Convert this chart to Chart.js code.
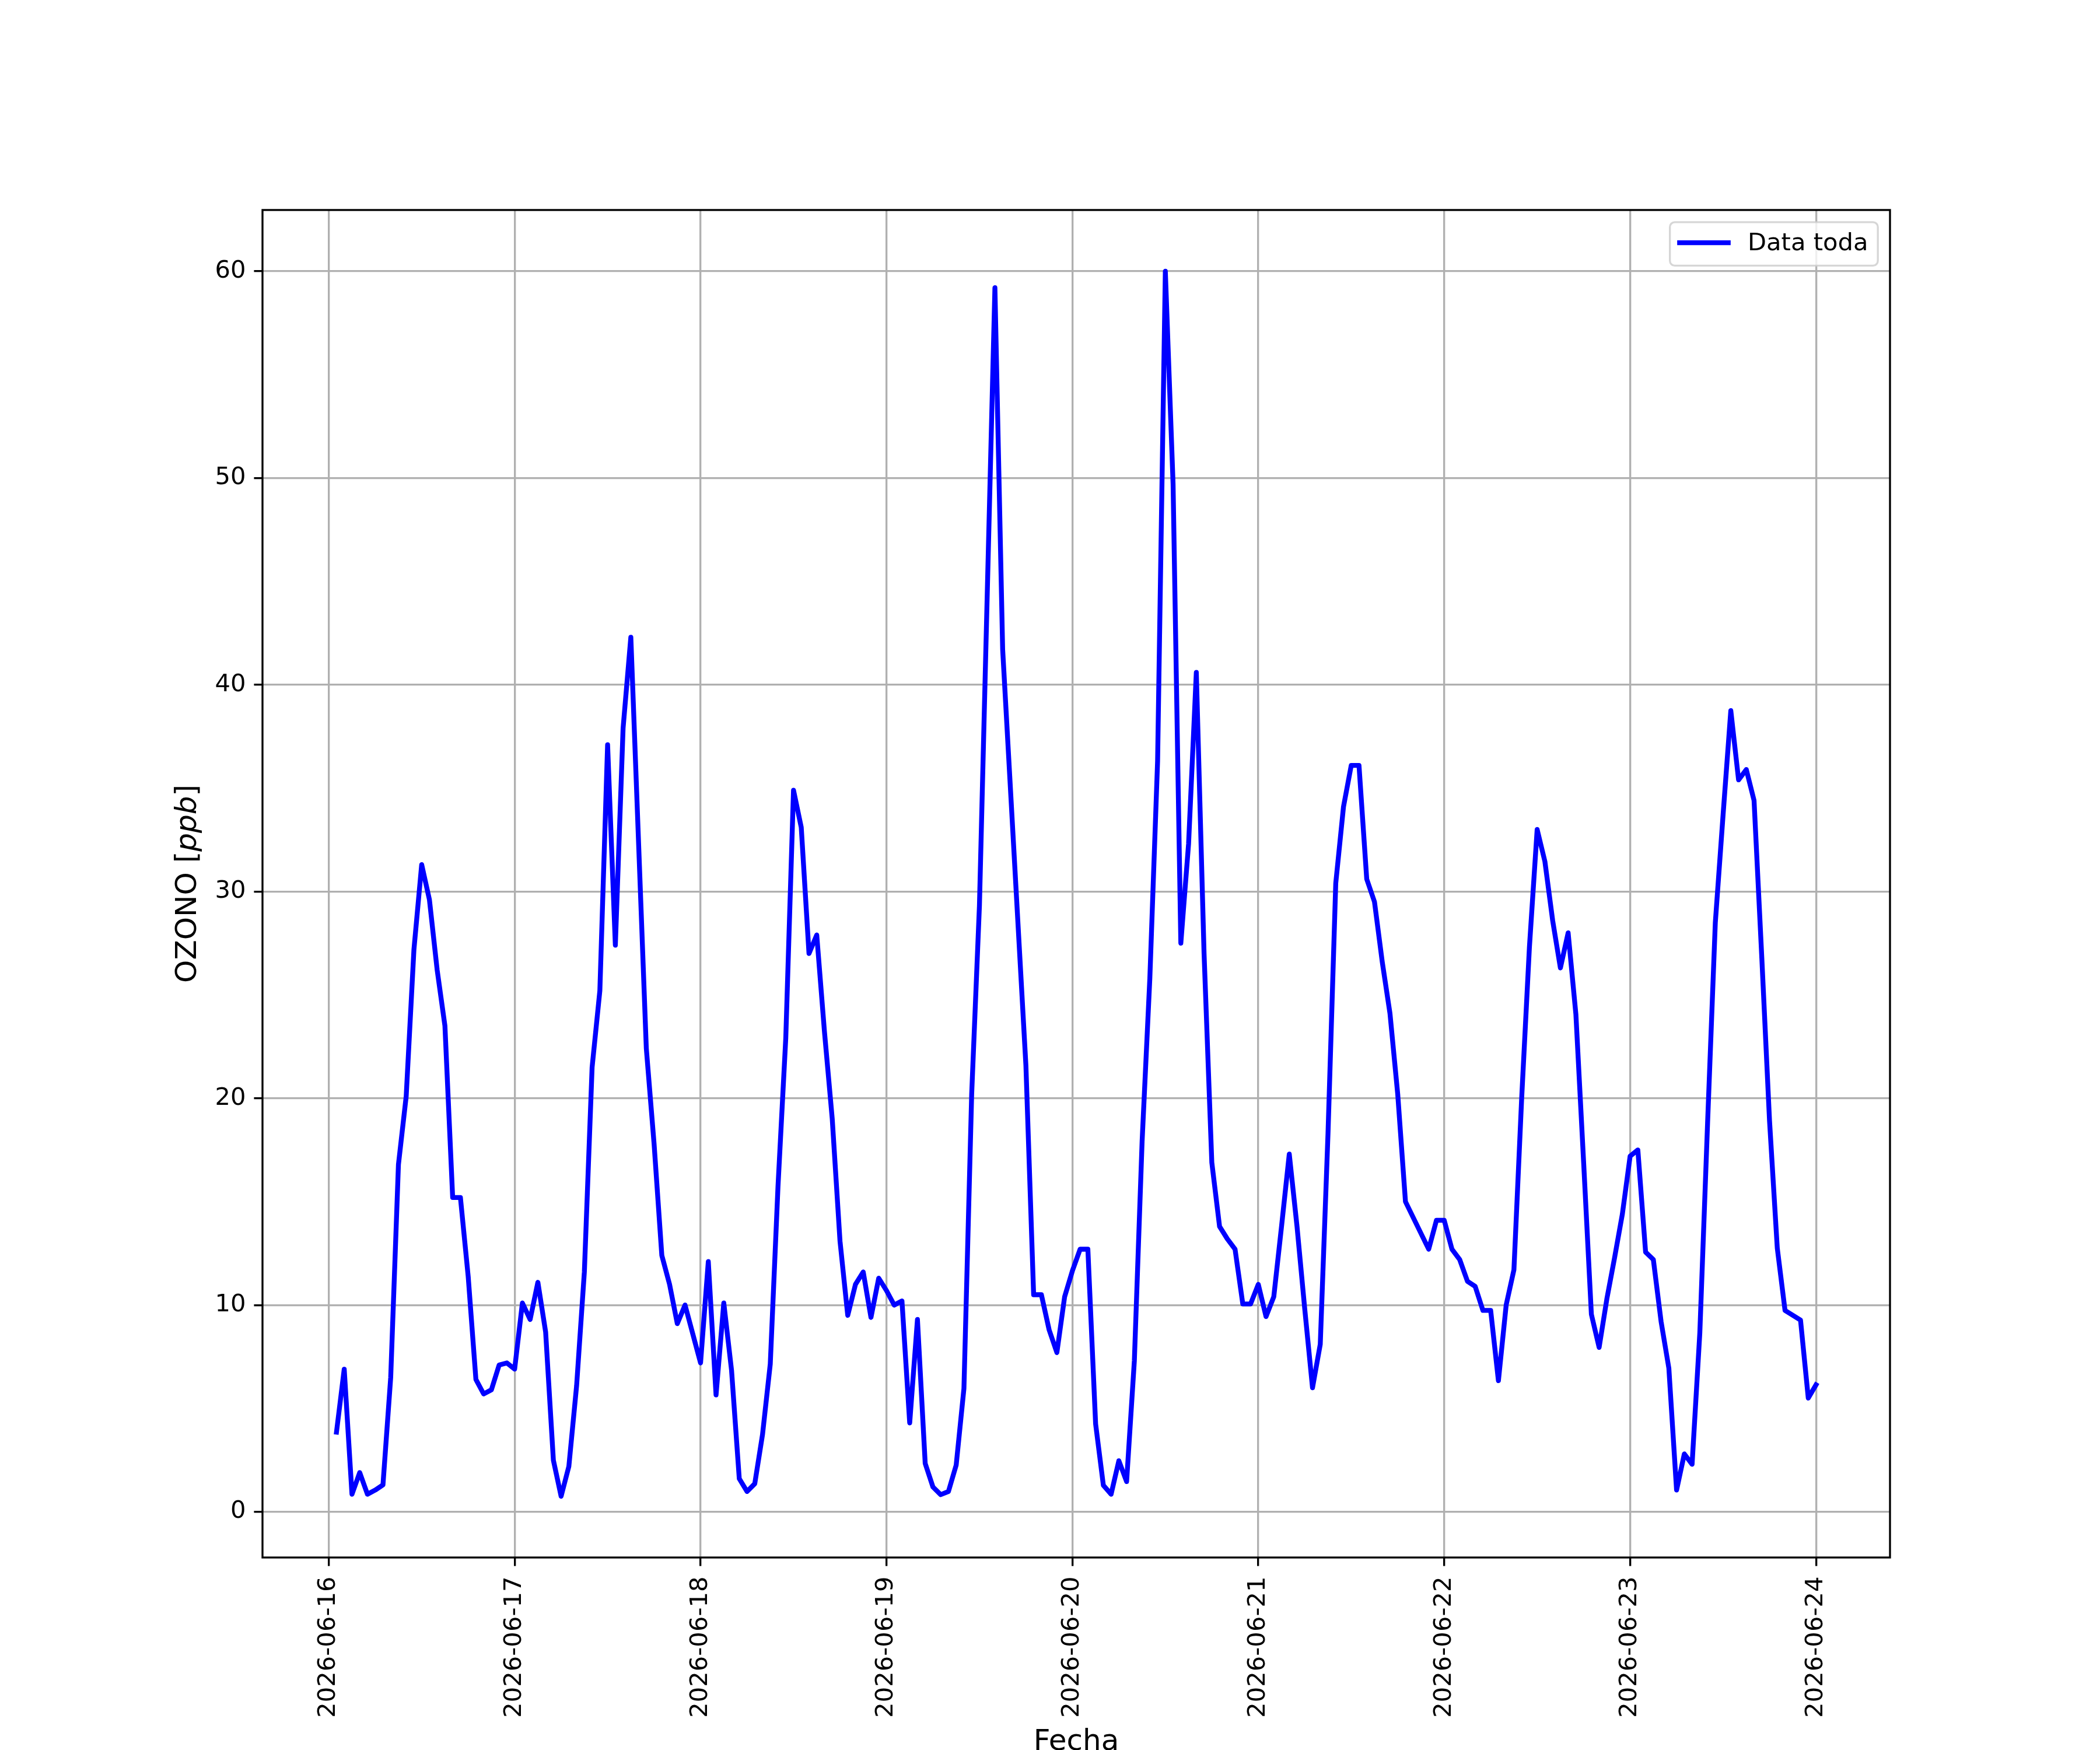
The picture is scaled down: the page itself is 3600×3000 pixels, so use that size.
<!DOCTYPE html>
<html>
<head>
<meta charset="utf-8">
<script src="https://cdn.jsdelivr.net/npm/chart.js@4.4.1/dist/chart.umd.min.js"></script>
<style>
  html, body { margin: 0; padding: 0; background: #ffffff; }
  #wrap { width: 3600px; height: 3000px; }
</style>
</head>
<body>
<div id="wrap"><canvas id="c" width="3600" height="3000"></canvas></div>
<script>
// ---- data (x = hours since 2026-06-16 00:00) ----
const hours = [
  1,2,3,4,5,6,7,8,9,10,11,12,13,14,15,16,17,18,19,20,21,22,23,
  24,25,26,27,28,29,30,31,32,33,34,35,36,37,38,39,41,42,43,44,45,46,47,
  48,49,50,51,52,53,54,55,56,57,58,59,60,61,62,63,64,65,66,67,68,69,70,71,
  72,73,74,75,76,77,78,79,80,81,82,83,84,86,87,90,91,92,93,94,95,
  96,97,98,99,100,101,102,103,104,105,106,107,108,109,110,111,112,113,114,115,116,117,118,119,
  120,121,122,123,124,125,126,127,128,129,130,131,132,133,134,135,136,137,138,139,142,143,
  144,145,146,147,148,149,150,151,152,153,154,155,156,157,158,159,160,161,162,163,164,165,166,167,
  168,169,170,171,172,173,174,175,176,177,178,179,180,181,182,183,184,185,186,187,188,190,191,
  192
];
const ozone = [
  3.85,6.9,0.85,1.9,0.85,1.05,1.3,6.5,16.8,20.1,27.2,31.3,29.6,26.2,23.5,15.2,15.2,11.4,6.4,5.7,5.9,7.1,7.2,
  6.9,10.1,9.3,11.1,8.7,2.5,0.75,2.2,6.1,11.6,21.5,25.2,37.1,27.4,37.9,42.3,22.4,17.8,12.4,11.0,9.1,10.0,8.6,
  7.2,12.1,5.65,10.1,6.85,1.6,0.98,1.36,3.74,7.15,15.76,22.9,34.9,33.1,27.0,27.9,23.2,19.0,13.1,9.5,11.0,11.6,9.4,11.3,
  10.7,10.0,10.2,4.3,9.3,2.34,1.2,0.83,0.98,2.26,5.96,20.2,29.3,59.2,41.7,21.6,10.5,10.5,8.8,7.7,10.4,
  11.65,12.7,12.7,4.25,1.28,0.85,2.47,1.46,7.3,17.9,25.8,36.3,60.0,49.7,27.5,32.3,40.6,27.0,16.9,13.8,13.2,12.7,10.05,10.05,
  11.0,9.44,10.4,13.8,17.3,13.8,9.8,6.0,8.1,18.3,30.4,34.1,36.1,36.1,30.6,29.5,26.6,24.1,20.2,15.0,12.7,14.1,
  14.1,12.7,12.2,11.15,10.9,9.74,9.74,6.34,10.0,11.7,20.0,27.3,33.0,31.45,28.6,26.3,28.0,24.06,16.9,9.55,7.95,10.3,12.3,14.4,
  17.2,17.5,12.56,12.2,9.2,6.95,1.05,2.8,2.3,8.66,18.8,28.5,33.7,38.75,35.4,35.9,34.4,26.8,18.9,12.75,9.74,9.27,5.5,
  6.14
];
const dayTickHours = [0,24,48,72,96,120,144,168,192];
const dayTickLabels = ['2026-06-16','2026-06-17','2026-06-18','2026-06-19','2026-06-20','2026-06-21','2026-06-22','2026-06-23','2026-06-24'];
const yTickValues = [0,10,20,30,40,50,60];
const seriesLabel = 'Data toda';
const xTitle = 'Fecha';
const yTitleParts = [['OZONO [', false], ['ppb', true], [']', false]];

// ---- style constants (matplotlib at 300 dpi) ----
const PT = 300 / 72;
const FS = 10 * PT;          // tick / legend text, 41.67 px
const FS_LABEL = 12 * PT;    // axis labels, 50 px
const FONT = 'DejaVu Sans';

Chart.defaults.font.family = FONT;
Chart.defaults.font.size = FS;
Chart.defaults.color = '#000000';

const points = hours.map((h, i) => ({ x: h, y: ozone[i] }));

const framePlugin = {
  id: 'frame',
  afterDatasetsDraw(chart) {
    const ctx = chart.ctx;
    const a = chart.chartArea;
    // legend (upper right, matplotlib style)
    ctx.save();
    ctx.font = FS + 'px "' + FONT + '"';
    const tw = ctx.measureText(seriesLabel).width;
    const pad = 0.4 * FS, handle = 2 * FS, htp = 0.8 * FS;
    const w = pad + handle + htp + tw + pad;
    const h = 2 * pad + FS * 0.99;
    const bx = a.right - 0.5 * FS - w;
    const by = a.top + 0.5 * FS;
    ctx.beginPath();
    ctx.roundRect(bx, by, w, h, 0.2 * FS);
    ctx.fillStyle = 'rgba(255,255,255,0.8)';
    ctx.fill();
    ctx.lineWidth = 0.8 * PT;
    ctx.strokeStyle = 'rgba(204,204,204,0.8)';
    ctx.stroke();
    const cy = by + h / 2 - 2;
    ctx.beginPath();
    ctx.moveTo(bx + pad, cy);
    ctx.lineTo(bx + pad + handle, cy);
    ctx.lineWidth = 2 * PT;
    ctx.strokeStyle = chart.data.datasets[0].borderColor;
    ctx.lineCap = 'square';
    ctx.stroke();
    ctx.fillStyle = '#000000';
    ctx.textBaseline = 'middle';
    ctx.textAlign = 'left';
    ctx.fillText(seriesLabel, bx + pad + handle + htp, by + h / 2);
    ctx.restore();
  },
  afterDraw(chart) {
    const ctx = chart.ctx;
    const a = chart.chartArea;
    ctx.save();
    // spines
    ctx.lineWidth = 0.8 * PT;
    ctx.strokeStyle = '#000000';
    ctx.strokeRect(a.left, a.top, a.right - a.left, a.bottom - a.top);
    // y-axis title with italic math part
    ctx.translate(323, (a.top + a.bottom) / 2);
    ctx.rotate(-Math.PI / 2);
    ctx.textBaseline = 'middle';
    ctx.textAlign = 'left';
    ctx.fillStyle = '#000000';
    const fonts = yTitleParts.map(p => (p[1] ? 'italic ' : '') + FS_LABEL + 'px "' + FONT + '"');
    let total = 0;
    const widths = yTitleParts.map((p, i) => { ctx.font = fonts[i]; const ww = ctx.measureText(p[0]).width; total += ww; return ww; });
    let x = -total / 2;
    yTitleParts.forEach((p, i) => { ctx.font = fonts[i]; ctx.fillText(p[0], x, 0); x += widths[i]; });
    ctx.restore();
  }
};

new Chart(document.getElementById('c'), {
  type: 'line',
  data: {
    datasets: [{
      label: seriesLabel,
      data: points,
      borderColor: '#0000ff',
      backgroundColor: '#0000ff',
      borderWidth: 2 * PT,
      borderJoinStyle: 'round',
      borderCapStyle: 'square',
      pointRadius: 0,
      tension: 0,
      fill: false
    }]
  },
  options: {
    responsive: false,
    devicePixelRatio: 1,
    animation: false,
    layout: { autoPadding: false, padding: { left: 0, top: 360, right: 360, bottom: 0 } },
    plugins: { legend: { display: false }, tooltip: { enabled: false } },
    scales: {
      x: {
        type: 'linear',
        min: -8.55,
        max: 201.55,
        afterBuildTicks(scale) { scale.ticks = dayTickHours.map(v => ({ value: v })); },
        afterFit(scale) { scale.height = 330; },
        ticks: {
          autoSkip: false,
          minRotation: 90,
          maxRotation: 90,
          padding: 18,
          font: { size: FS },
          color: '#000000',
          callback(value) { const i = dayTickHours.indexOf(value); return i >= 0 ? dayTickLabels[i] : ''; }
        },
        grid: {
          color: '#b0b0b0',
          lineWidth: 0.8 * PT,
          drawTicks: true,
          tickLength: 3.5 * PT,
          tickColor: '#000000',
          tickWidth: 0.8 * PT
        },
        border: { display: false },
        title: { display: true, text: xTitle, font: { size: FS_LABEL, lineHeight: 0.52 }, color: '#000000', padding: { top: 0, bottom: 0 } }
      },
      y: {
        type: 'linear',
        min: -2.21,
        max: 62.96,
        afterBuildTicks(scale) { scale.ticks = yTickValues.map(v => ({ value: v })); },
        afterFit(scale) { scale.width = 450; },
        ticks: {
          padding: 14,
          font: { size: FS },
          color: '#000000',
          callback(value) { return String(value); }
        },
        grid: {
          color: '#b0b0b0',
          lineWidth: 0.8 * PT,
          drawTicks: true,
          tickLength: 3.5 * PT,
          tickColor: '#000000',
          tickWidth: 0.8 * PT
        },
        border: { display: false }
      }
    }
  },
  plugins: [framePlugin]
});
</script>
</body>
</html>
